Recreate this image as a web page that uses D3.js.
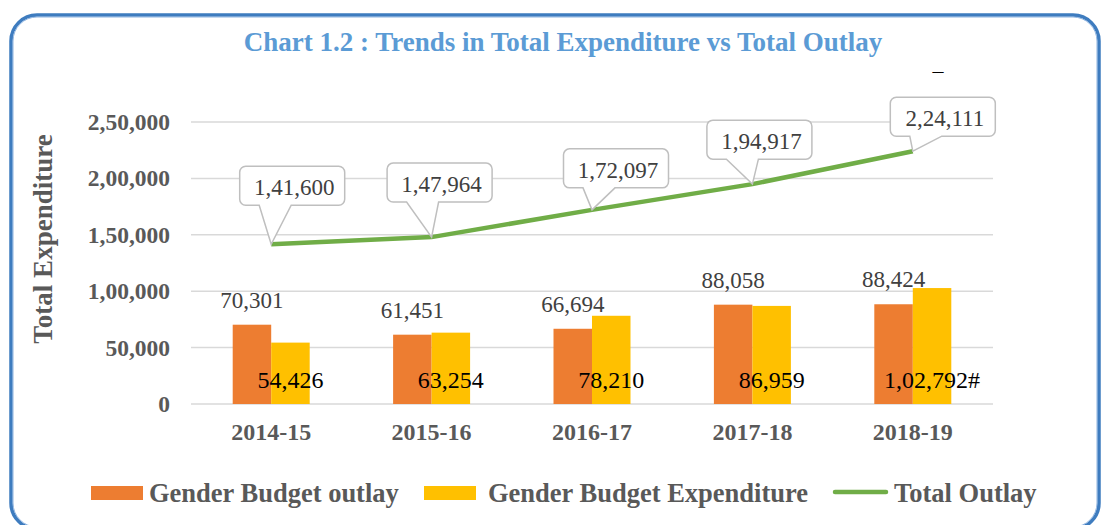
<!DOCTYPE html>
<html>
<head>
<meta charset="utf-8">
<script src="https://cdn.jsdelivr.net/npm/d3@7"></script>
<style>
  body { margin: 0; background: #fff; }
  text { font-family: "Liberation Serif", "Times New Roman", serif; }
</style>
</head>
<body>
<div id="chart"></div>
<script>

// data
var years = ["2014-15", "2015-16", "2016-17", "2017-18", "2018-19"];
var gbOutlay = [70301, 61451, 66694, 88058, 88424];
var gbExpenditure = [54426, 63254, 78210, 86959, 102792];
var expSuffix = ["", "", "", "", "#"];
var totalOutlay = [141600, 147964, 172097, 194917, 224111];
var yTicks = [0, 50000, 100000, 150000, 200000, 250000];

// callout box placement (box centre - point x, gap from box bottom to point)
var calloutDx = [21, 8, 24, 7, 30];
var calloutGap = [39, 35, 22, 25, 15];

var W = 1103, H = 525;

// indian style number grouping: 2,50,000
function inr(n) {
    var s = String(Math.round(n));
    if (s.length <= 3) return s;
    var last3 = s.slice(-3), rest = s.slice(0, -3);
    rest = rest.replace(/\B(?=(\d{2})+(?!\d))/g, ",");
    return rest + "," + last3;
}

var svg = d3.select("#chart").append("svg")
    .attr("width", W)
    .attr("height", H);

// frame
svg.append("rect")
    .attr("x", 11).attr("y", 15)
    .attr("width", 1088).attr("height", 514)
    .attr("rx", 26).attr("ry", 26)
    .attr("fill", "none")
    .attr("stroke", "#3E7CBF")
    .attr("stroke-width", 3.5);
svg.append("rect")
    .attr("x", 13).attr("y", 17)
    .attr("width", 1084).attr("height", 510)
    .attr("rx", 24).attr("ry", 24)
    .attr("fill", "none")
    .attr("stroke", "#8DB3E0")
    .attr("stroke-width", 1);

// title
svg.append("text")
    .attr("x", 563).attr("y", 51)
    .attr("text-anchor", "middle")
    .attr("font-size", 27)
    .attr("font-weight", "bold")
    .attr("fill", "#5B9BD5")
    .text("Chart 1.2 : Trends in Total Expenditure vs Total Outlay");

svg.append("text")
    .attr("x", 938).attr("y", 78)
    .attr("text-anchor", "middle")
    .attr("font-size", 22)
    .attr("fill", "#000")
    .text("\u2013");

var x = d3.scaleBand()
    .domain(years)
    .range([191, 993]);

var y = d3.scaleLinear()
    .domain([0, 250000])
    .range([404, 122]);

var barW = x.bandwidth() * 0.24;

// gridlines
svg.append("g").selectAll("line")
    .data(yTicks)
    .enter().append("line")
    .attr("x1", 191).attr("x2", 993)
    .attr("y1", function(d){ return y(d); })
    .attr("y2", function(d){ return y(d); })
    .attr("stroke", "#D9D9D9")
    .attr("stroke-width", 1.5);

// y axis labels
var yAxis = svg.append("g")
    .attr("transform", "translate(178,0)")
    .call(d3.axisLeft(y).tickValues(yTicks).tickFormat(inr).tickSize(0).tickPadding(8));
yAxis.select(".domain").remove();
yAxis.selectAll("text")
    .attr("font-family", "Liberation Serif")
    .attr("font-size", 23.5)
    .attr("font-weight", "bold")
    .attr("fill", "#595959");

// x axis labels
var xAxis = svg.append("g")
    .attr("transform", "translate(0,404)")
    .call(d3.axisBottom(x).tickSize(0).tickPadding(19));
xAxis.select(".domain").remove();
xAxis.selectAll("text")
    .attr("font-family", "Liberation Serif")
    .attr("font-size", 24)
    .attr("font-weight", "bold")
    .attr("fill", "#595959");

svg.append("text")
    .attr("transform", "translate(52,239) rotate(-90)")
    .attr("text-anchor", "middle")
    .attr("font-size", 27)
    .attr("font-weight", "bold")
    .attr("fill", "#595959")
    .text("Total Expenditure");

// bars
function cx(i){ return x(years[i]) + x.bandwidth() / 2; }

svg.append("g").selectAll("rect")
    .data(gbOutlay)
    .enter().append("rect")
    .attr("x", function(d, i){ return cx(i) - barW; })
    .attr("y", function(d){ return y(d); })
    .attr("width", barW)
    .attr("height", function(d){ return y(0) - y(d); })
    .attr("fill", "#ED7D31");

svg.append("g").selectAll("rect")
    .data(gbExpenditure)
    .enter().append("rect")
    .attr("x", function(d, i){ return cx(i); })
    .attr("y", function(d){ return y(d); })
    .attr("width", barW)
    .attr("height", function(d){ return y(0) - y(d); })
    .attr("fill", "#FFC000");

// bar value labels
svg.append("g").selectAll("text")
    .data(gbOutlay)
    .enter().append("text")
    .attr("x", function(d, i){ return cx(i) - barW / 2; })
    .attr("y", function(d){ return y(d) - 17; })
    .attr("text-anchor", "middle")
    .attr("font-size", 23)
    .attr("fill", "#404040")
    .text(inr);

svg.append("g").selectAll("text")
    .data(gbExpenditure)
    .enter().append("text")
    .attr("x", function(d, i){ return cx(i) + barW / 2; })
    .attr("y", y(0) - 16)
    .attr("text-anchor", "middle")
    .attr("font-size", 24)
    .attr("fill", "#000")
    .text(function(d, i){ return inr(d) + expSuffix[i]; });

// total outlay line
var line = d3.line()
    .x(function(d, i){ return cx(i); })
    .y(function(d){ return y(d); });

svg.append("path")
    .datum(totalOutlay)
    .attr("d", line)
    .attr("fill", "none")
    .attr("stroke", "#70AD47")
    .attr("stroke-width", 4.5);

// callouts
var bw = 105, bh = 39, r = 6;
var callouts = svg.append("g").selectAll("g")
    .data(totalOutlay)
    .enter().append("g");

callouts.append("path")
    .attr("d", function(d, i){
        var px = cx(i), py = y(d);
        var bxc = px + calloutDx[i];
        var bx = bxc - bw / 2;
        var by = py - calloutGap[i] - bh;
        var b1 = bxc - 33, b2 = bxc - 1;
        var p = d3.path();
        p.moveTo(bx + r, by);
        p.lineTo(bx + bw - r, by);
        p.arcTo(bx + bw, by, bx + bw, by + r, r);
        p.lineTo(bx + bw, by + bh - r);
        p.arcTo(bx + bw, by + bh, bx + bw - r, by + bh, r);
        p.lineTo(b2, by + bh);
        p.lineTo(px, py);
        p.lineTo(b1, by + bh);
        p.lineTo(bx + r, by + bh);
        p.arcTo(bx, by + bh, bx, by + bh - r, r);
        p.lineTo(bx, by + r);
        p.arcTo(bx, by, bx + r, by, r);
        p.closePath();
        return p.toString();
    })
    .attr("fill", "#fff")
    .attr("stroke", "#BFBFBF")
    .attr("stroke-width", 1.5);

callouts.append("text")
    .attr("x", function(d, i){ return cx(i) + calloutDx[i] + 2; })
    .attr("y", function(d, i){ return y(d) - calloutGap[i] - 10; })
    .attr("text-anchor", "middle")
    .attr("font-size", 23)
    .attr("fill", "#404040")
    .text(inr);

// legend
var lg = svg.append("g").attr("font-size", 26.5).attr("font-weight", "bold").attr("fill", "#595959");
lg.append("rect").attr("x", 91).attr("y", 486).attr("width", 52).attr("height", 14).attr("fill", "#ED7D31");
lg.append("text").attr("x", 149).attr("y", 502).text("Gender Budget outlay");
lg.append("rect").attr("x", 424).attr("y", 486).attr("width", 52).attr("height", 14).attr("fill", "#FFC000");
lg.append("text").attr("x", 488).attr("y", 502).text("Gender Budget Expenditure");
lg.append("line").attr("x1", 835).attr("x2", 886).attr("y1", 492).attr("y2", 492)
    .attr("stroke", "#70AD47").attr("stroke-width", 4.5).attr("stroke-linecap", "round");
lg.append("text").attr("x", 894).attr("y", 502).text("Total Outlay");

</script>
</body>
</html>
